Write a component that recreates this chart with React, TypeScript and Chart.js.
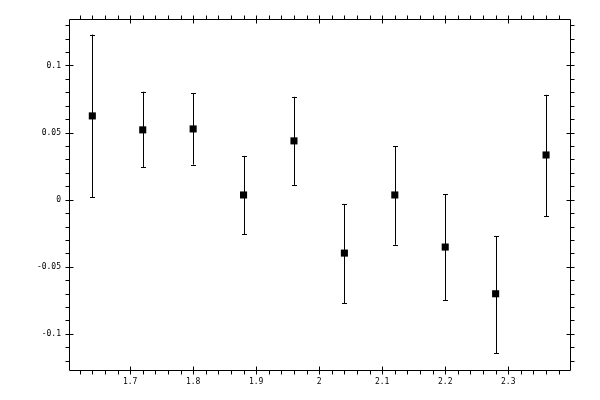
import React, { useRef, useEffect } from 'react';
import { Chart, registerables } from 'chart.js';

Chart.register(...registerables);

// measured points: x position, value, and upper / lower ends of the error bar
const xValues = [1.64, 1.72, 1.80, 1.88, 1.96, 2.04, 2.12, 2.20, 2.28, 2.36];
const yValues = [0.0624, 0.052, 0.0527, 0.0035, 0.0438, -0.0398, 0.0035, -0.0353, -0.0701, 0.0333];
const yUpper = [0.123, 0.0804, 0.0793, 0.0326, 0.0766, -0.0032, 0.040, 0.0042, -0.0271, 0.0781];
const yLower = [0.002, 0.0244, 0.0261, -0.0256, 0.011, -0.0771, -0.0336, -0.0749, -0.1144, -0.0122];

// axis ranges and tick spacing
const xRange = [1.603, 2.398];
const yRange = [-0.1269, 0.1346];
const xMajorStep = 0.1;
const xMinorStep = 0.02;
const yMajorStep = 0.05;
const yMinorStep = 0.01;

const fmt = (v: number) => String(Number(v.toFixed(4)));

const steps = (min: number, max: number, step: number) => {
  const out: number[] = [];
  for (let i = Math.ceil(min / step - 1e-6); i * step <= max + 1e-9; i++) out.push(i * step);
  return out;
};

const isMajor = (v: number, step: number) => Math.abs(v / step - Math.round(v / step)) < 1e-6;

const errorBarsPlugin = {
  id: 'errorBars',
  afterDatasetsDraw(chart: any) {
    const { ctx, scales } = chart;
    const x = scales.x;
    const y = scales.y;
    ctx.save();
    ctx.strokeStyle = '#000';
    ctx.lineWidth = 1;
    xValues.forEach((xv, i) => {
      const px = Math.round(x.getPixelForValue(xv)) + 0.5;
      const top = y.getPixelForValue(yUpper[i]);
      const bot = y.getPixelForValue(yLower[i]);
      ctx.beginPath();
      ctx.moveTo(px, top);
      ctx.lineTo(px, bot);
      ctx.moveTo(px - 2.5, Math.round(top) + 0.5);
      ctx.lineTo(px + 2.5, Math.round(top) + 0.5);
      ctx.moveTo(px - 2.5, Math.round(bot) + 0.5);
      ctx.lineTo(px + 2.5, Math.round(bot) + 0.5);
      ctx.stroke();
    });
    ctx.restore();
  },
};

const framePlugin = {
  id: 'frame',
  afterDraw(chart: any) {
    const { ctx, chartArea, scales } = chart;
    const { left, right, top, bottom } = chartArea;
    const L = Math.round(left) + 0.5;
    const R = Math.round(right) + 0.5;
    const T = Math.round(top) + 0.5;
    const B = Math.round(bottom) + 0.5;
    ctx.save();
    ctx.strokeStyle = '#000';
    ctx.lineWidth = 1;
    ctx.beginPath();
    ctx.rect(L, T, R - L, B - T);
    // x ticks on bottom and top
    steps(xRange[0], xRange[1], xMinorStep).forEach((v) => {
      const px = Math.round(scales.x.getPixelForValue(v)) + 0.5;
      const major = isMajor(v, xMajorStep);
      ctx.moveTo(px, B + 4);
      ctx.lineTo(px, major ? B - 4 : B);
      ctx.moveTo(px, T - 4);
      ctx.lineTo(px, major ? T + 4 : T);
    });
    // y ticks on left and right
    steps(yRange[0], yRange[1], yMinorStep).forEach((v) => {
      const py = Math.round(scales.y.getPixelForValue(v)) + 0.5;
      const major = isMajor(v, yMajorStep);
      ctx.moveTo(L - 4, py);
      ctx.lineTo(major ? L + 4 : L, py);
      ctx.moveTo(R + 4, py);
      ctx.lineTo(major ? R - 4 : R, py);
    });
    ctx.stroke();
    ctx.restore();
  },
};

export default function App() {
  const canvasRef = useRef<HTMLCanvasElement | null>(null);

  useEffect(() => {
    if (!canvasRef.current) return;
    const tickFont = { family: '"DejaVu Sans Mono", monospace', size: 8 };
    const chart = new Chart(canvasRef.current, {
      type: 'scatter',
      data: {
        datasets: [
          {
            data: xValues.map((x, i) => ({ x, y: yValues[i] })),
            pointStyle: 'rect',
            pointRadius: 5,
            pointHoverRadius: 5,
            pointBackgroundColor: '#000',
            pointBorderWidth: 0,
            borderColor: '#000',
          },
        ],
      },
      options: {
        animation: false,
        responsive: true,
        maintainAspectRatio: false,
        devicePixelRatio: 1,
        layout: { padding: { left: 0, top: 19, right: 30, bottom: 0 } },
        plugins: { legend: { display: false }, tooltip: { enabled: false } },
        scales: {
          x: {
            type: 'linear',
            min: xRange[0],
            max: xRange[1],
            grid: { display: false, drawTicks: false },
            border: { display: false },
            afterFit: (s: any) => {
              s.height = 30;
            },
            ticks: {
              stepSize: xMajorStep,
              includeBounds: false,
              autoSkip: false,
              maxRotation: 0,
              padding: 7,
              color: '#000',
              font: tickFont,
              callback: (v: any) => fmt(Number(v)),
            },
          },
          y: {
            type: 'linear',
            min: yRange[0],
            max: yRange[1],
            grid: { display: false, drawTicks: false },
            border: { display: false },
            afterFit: (s: any) => {
              s.width = 69;
            },
            ticks: {
              stepSize: yMajorStep,
              includeBounds: false,
              autoSkip: false,
              padding: 8,
              color: '#000',
              font: tickFont,
              callback: (v: any) => fmt(Number(v)),
            },
          },
        },
      },
      plugins: [errorBarsPlugin, framePlugin],
    });
    return () => chart.destroy();
  }, []);

  return (
    <div style={{ position: 'fixed', left: 0, top: 0, width: 600, height: 400, background: '#fff' }}>
      <canvas ref={canvasRef}></canvas>
    </div>
  );
}
